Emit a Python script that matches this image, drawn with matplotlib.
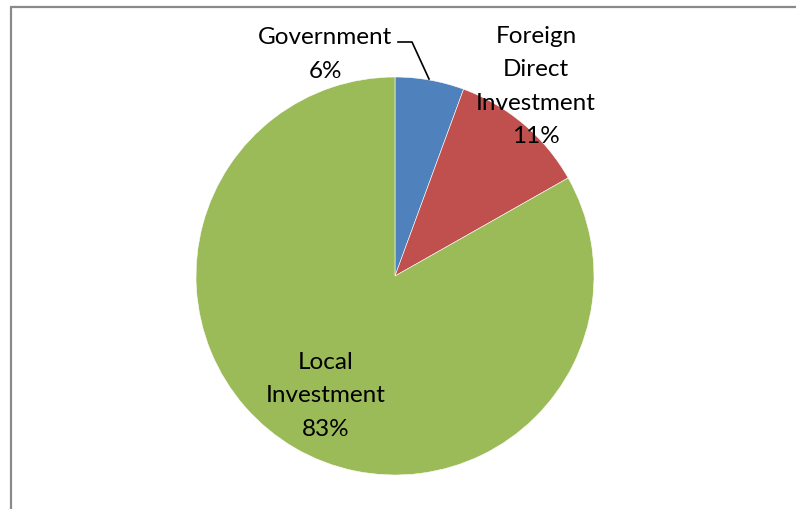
import matplotlib
matplotlib.use('Agg')
import matplotlib.pyplot as plt

# share of investment by source (percent)
sources = ["Government", "Foreign\nDirect\nInvestment", "Local\nInvestment"]
shares = [5.6, 11.2, 83.2]
colors = ["#4F81BD", "#C0504D", "#9BBB59"]

W, H = 796, 510
plt.rcParams['font.family'] = ['Lato', 'DejaVu Sans']

fig = plt.figure(figsize=(W / 100, H / 100), dpi=100)
ax = fig.add_axes([0, 0, 1, 1])

# pixel-like coordinates, y measured from the top
def py(y):
    return H - y

wedges, _ = ax.pie(shares, colors=colors, startangle=90, counterclock=False,
                   center=(395, py(277)), radius=199, frame=True,
                   wedgeprops=dict(linewidth=0.4, edgecolor='white'))
ax.set_xlim(0, W)
ax.set_ylim(0, H)
ax.set_aspect('equal')
ax.axis('off')

# chart area border (only left and top edges fall inside the image)
ax.plot([11, 11, W], [py(H + 5), py(8), py(8)], color='#8a8a8a', lw=1.6,
        solid_joinstyle='miter', clip_on=False)

label_pos = [(325, 54.5), (536, 86.5), (326, 396)]
for name, val, (x, y) in zip(sources, shares, label_pos):
    ax.text(x, py(y), f"{name}\n{val:.0f}%", ha='center', va='center',
            fontsize=17.5, linespacing=1.72, color='black')

# leader line for the small slice
ax.plot([398, 412, 429], [py(43), py(43), py(80)], color='black', lw=1.2)

fig.savefig('out.png', dpi=100)
